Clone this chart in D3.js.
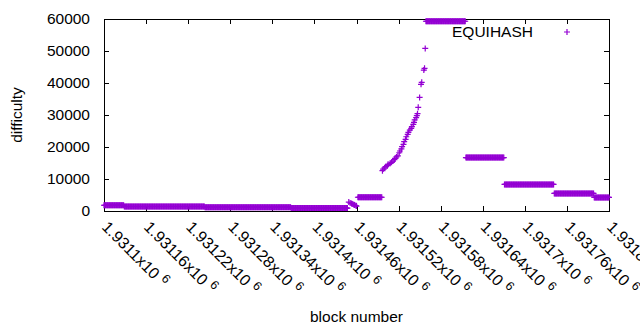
<!DOCTYPE html>
<html lang="en">
<head>
<meta charset="UTF-8">
<title>EQUIHASH difficulty</title>
<script src="https://d3js.org/d3.v7.min.js"></script>
<style>
  body { margin: 0; background: #fff; }
  svg { font-family: "Liberation Sans", Arial, sans-serif; }
  .axis path, .axis line { stroke: #000; shape-rendering: crispEdges; }
  .axis text { font-size: 15.5px; fill: #000; }
  .xlab text { font-size: 16px; }
  .pt { fill: none; stroke: #9400d3; stroke-width: 1.2; }
</style>
</head>
<body>
<svg width="640" height="330"></svg>
<script>
// flat stretches of blocks that share one difficulty (first block, last block, value)
const runStart      = [1931100, 1931129, 1931244, 1931367, 1931462, 1931559, 1931616, 1931671, 1931742, 1931799];
const runEnd        = [1931128, 1931243, 1931366, 1931447, 1931496, 1931615, 1931670, 1931741, 1931798, 1931820];
const runDifficulty = [1800, 1400, 1150, 900, 4300, 59300, 16700, 8300, 5500, 4250];

// single blocks: the short drop and the climb to the cap
const pointBlocks = [
  1931449, 1931451, 1931453, 1931454, 1931456, 1931457, 1931459, 1931460,
  1931497, 1931498, 1931500, 1931502, 1931504, 1931505, 1931508, 1931510,
  1931512, 1931514, 1931515, 1931517, 1931519, 1931521, 1931522, 1931524,
  1931525, 1931527, 1931528, 1931530, 1931531, 1931533, 1931534, 1931536,
  1931538, 1931539, 1931541, 1931542, 1931543, 1931545, 1931546, 1931547,
  1931548, 1931550, 1931552, 1931553, 1931556, 1931557, 1931558
];
const pointDifficulty = [
  2800, 2500, 2350, 2200, 2050, 1900, 1700, 1550,
  12600, 13100, 13500, 13850, 14150, 14600, 14900, 15200,
  15600, 16050, 16450, 16900, 17200, 18200, 18750, 19400,
  20100, 20800, 21650, 22400, 23200, 23950, 24600, 25300,
  25850, 26350, 27100, 27700, 28450, 29150, 29800, 30400,
  32400, 35500, 39600, 40200, 44050, 44600, 50800
];

const xTicks = [1931100, 1931160, 1931220, 1931280, 1931340, 1931400, 1931460,
                1931520, 1931580, 1931640, 1931700, 1931760, 1931820];
const yTicks = [0, 10000, 20000, 30000, 40000, 50000, 60000];

const svg = d3.select("svg"),
    margin = {top: 19, right: 31, bottom: 119, left: 104},
    width = +svg.attr("width") - margin.left - margin.right,
    height = +svg.attr("height") - margin.top - margin.bottom,
    g = svg.append("g").attr("transform", `translate(${margin.left},${margin.top})`);

const x = d3.scaleLinear().domain([1931100, 1931820]).range([0, width]),
      y = d3.scaleLinear().domain([0, 60000]).range([height, 0]);

// one point per block
const data = [];
runStart.forEach((s, i) => {
    for (let b = s; b <= runEnd[i]; b++) data.push({block: b, diff: runDifficulty[i]});
});
pointBlocks.forEach((b, i) => data.push({block: b, diff: pointDifficulty[i]}));

const plus = "M-3,0H3M0,-3V3";

// axes (gnuplot style: inward ticks mirrored on all sides)
const tick = 5;
g.append("g").attr("class", "axis")
    .attr("transform", `translate(0,${height})`)
    .call(d3.axisBottom(x).tickValues(xTicks).tickSize(-tick).tickSizeOuter(0).tickFormat(""));
g.append("g").attr("class", "axis")
    .call(d3.axisTop(x).tickValues(xTicks).tickSize(-tick).tickSizeOuter(0).tickFormat(""));
g.append("g").attr("class", "axis")
    .call(d3.axisLeft(y).tickValues(yTicks).tickSize(-tick).tickSizeOuter(0)
        .tickPadding(14).tickFormat(d3.format("d")));
g.append("g").attr("class", "axis")
    .attr("transform", `translate(${width},0)`)
    .call(d3.axisRight(y).tickValues(yTicks).tickSize(-tick).tickSizeOuter(0).tickFormat(""));

g.selectAll(".axis .domain").attr("fill", "none");

// rotated x tick labels like 1.9311x10^6
const xl = g.append("g").attr("class", "axis xlab");
xTicks.forEach(v => {
    const t = xl.append("text")
        .attr("transform", `translate(${x(v) - 3},${height + 17}) rotate(45)`)
        .attr("text-anchor", "start");
    t.append("tspan").text(+(v / 1e6).toFixed(6) + "x10");
    t.append("tspan").attr("dx", 5).attr("dy", -6).style("font-size", "12.5px").text("6");
});

// points
g.append("g").selectAll("path")
    .data(data)
    .join("path")
    .attr("class", "pt")
    .attr("transform", d => `translate(${x(d.block)},${y(d.diff)})`)
    .attr("d", plus);

// axis titles
svg.append("text")
    .attr("transform", "translate(22,115) rotate(-90)")
    .attr("text-anchor", "middle")
    .style("font-size", "15.5px")
    .text("difficulty");
svg.append("text")
    .attr("x", margin.left + width / 2)
    .attr("y", 322)
    .attr("text-anchor", "middle")
    .style("font-size", "15.5px")
    .text("block number");

// key
const key = svg.append("g");
key.append("text")
    .attr("x", 533)
    .attr("y", 37)
    .attr("text-anchor", "end")
    .style("font-size", "15.5px")
    .text("EQUIHASH");
key.append("path")
    .attr("class", "pt")
    .attr("transform", "translate(567,32)")
    .attr("d", plus);
</script>
</body>
</html>
